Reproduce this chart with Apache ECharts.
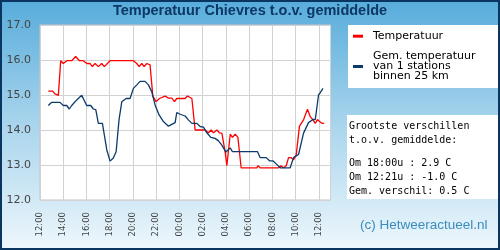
<!DOCTYPE html>
<html>
<head>
<meta charset="utf-8">
<script src="https://cdn.jsdelivr.net/npm/echarts@6/dist/echarts.min.js"></script>
<style>html,body{margin:0;padding:0;}#c{width:500px;height:250px;}</style>
</head>
<body>
<div id="c"></div>
<script>
// Hours since 00:00 of day 1 (12 = 12:00, 36 = 12:00 next day)
const tempHours = [12.71,13.09,13.29,13.58,13.78,14.01,14.30,14.73,15.07,15.39,15.73,16.02,16.31,16.50,16.74,17.02,17.31,17.54,18.03,20.04,20.33,20.53,20.76,20.96,21.19,21.47,21.71,21.99,22.28,22.77,23.05,23.34,23.57,23.77,24.49,24.69,25.07,25.35,26.21,26.50,26.73,26.93,27.22,27.44,27.65,27.93,28.08,28.37,28.56,28.80,29.03,29.31,30.67,30.75,30.95,32.53,32.73,32.96,33.19,33.39,33.62,33.82,34.05,34.33,34.68,35.02,35.26,35.49,35.69,35.88,36.06,36.26,36.46];
const tempValues = [15.11,15.11,15.03,14.99,15.98,15.9,15.98,15.98,16.1,15.98,15.98,15.9,15.9,15.81,15.9,15.81,15.9,15.81,15.98,15.98,15.9,15.81,15.9,15.81,15.9,15.86,14.97,14.81,14.9,14.97,14.91,14.91,14.81,14.9,14.9,14.97,14.9,14.0,14.0,13.92,14.0,13.92,14.0,13.92,13.91,13.38,12.98,13.88,13.79,13.88,13.79,12.92,12.92,12.98,12.92,12.92,12.98,12.92,12.98,13.21,13.21,13.15,13.29,14.11,14.29,14.59,14.38,14.29,14.19,14.3,14.24,14.19,14.19];
const avgHours = [12.71,13.01,13.72,14.01,14.30,14.52,14.73,15.16,15.59,16.02,16.37,16.59,16.80,17.02,17.37,17.75,18.03,18.31,18.55,18.80,19.04,19.41,19.75,20.04,20.33,20.61,21.04,21.33,21.62,21.91,22.25,22.62,23.05,23.34,23.63,23.77,24.06,24.49,24.77,25.07,25.50,25.78,26.07,26.36,26.70,27.07,27.36,27.65,28.00,28.37,28.56,30.72,30.95,31.47,31.75,32.04,32.39,32.67,33.53,33.82,34.25,34.68,35.11,35.49,35.69,35.97,36.12,36.35];
const avgValues = [14.7,14.79,14.79,14.7,14.7,14.6,14.7,14.86,14.99,14.7,14.7,14.6,14.58,14.19,14.19,13.43,13.11,13.2,13.38,14.29,14.81,14.9,14.9,15.19,15.29,15.39,15.39,15.29,15.09,14.71,14.43,14.24,14.11,14.16,14.21,14.5,14.45,14.4,14.29,14.19,14.19,14.1,14.08,13.92,13.79,13.76,13.69,13.57,13.37,13.49,13.38,13.38,13.21,13.21,13.12,13.12,13.01,12.92,12.92,13.21,13.3,13.91,14.21,14.3,14.3,15.0,15.07,15.19];
const seriesNames = ['Temperatuur', 'Gem. temperatuur\nvan 1 stations\nbinnen 25 km'];
const statsLines = ['Grootste verschillen', 't.o.v. gemiddelde:', 'Om 18:00u : 2.9 C', 'Om 12:21u : -1.0 C', 'Gem. verschil: 0.5 C'];
const titleText = 'Temperatuur Chievres t.o.v. gemiddelde';
const creditText = '(c) Hetweeractueel.nl';

const chart = echarts.init(document.getElementById('c'), null, {renderer: 'canvas'});
const pair = (xs, ys) => xs.map((x, i) => [x, ys[i]]);
const statsY = [126, 140.3, 163.3, 177.8, 191.3];

chart.setOption({
  animation: false,
  backgroundColor: {type: 'linear', x: 0, y: 0, x2: 0, y2: 1,
    colorStops: [{offset: 0, color: '#57acdb'}, {offset: 0.5, color: '#a9d5ed'}, {offset: 1, color: '#eef7fc'}]},
  title: {
    text: titleText, left: 'center', top: 3, padding: 0,
    textStyle: {fontFamily: 'Liberation Sans', fontWeight: 'bold', fontSize: 14.5, color: '#0d3764'}
  },
  grid: {left: 40, top: 25, width: 290.5, height: 175, show: true, backgroundColor: '#ffffff', borderColor: '#c4c4c4', borderWidth: 1},
  xAxis: {
    type: 'value', min: 12, max: 37, interval: 2,
    axisLine: {show: false}, axisTick: {show: false},
    splitLine: {show: true, lineStyle: {color: '#d2d2d2', width: 1}},
    axisLabel: {
      rotate: 90, margin: 12, showMaxLabel: false,
      fontFamily: 'DejaVu Sans', fontSize: 8.5, color: '#444',
      formatter: v => String(Math.round(v) % 24).padStart(2, '0') + ':00'
    }
  },
  yAxis: {
    type: 'value', min: 12, max: 17, interval: 1,
    axisLine: {show: false}, axisTick: {show: false},
    splitLine: {show: true, lineStyle: {color: '#d2d2d2', width: 1}},
    axisLabel: {margin: 9, fontFamily: 'DejaVu Sans', fontSize: 11, color: '#444', formatter: v => v.toFixed(1)}
  },
  legend: {
    orient: 'vertical', left: 353, top: 30.7, padding: 0, itemGap: 9.3,
    itemWidth: 10, itemHeight: 3, icon: 'rect', selectedMode: false, z: 10,
    textStyle: {fontFamily: 'DejaVu Sans', fontSize: 11, lineHeight: 10, color: '#000', padding: [0, 0, 0, 5]},
    data: seriesNames
  },
  graphic: [
    {type: 'rect', z: 1, shape: {x: 348, y: 25, width: 150, height: 63}, style: {fill: '#ffffff'}},
    {type: 'rect', z: 1, shape: {x: 347, y: 115, width: 151, height: 84}, style: {fill: '#ffffff'}},
    ...statsLines.map((t, i) => ({type: 'text', z: 2, x: 349, y: statsY[i],
      style: {text: t, font: '10px "DejaVu Sans Mono"', fill: '#000', textVerticalAlign: 'middle'}})),
    {type: 'text', z: 2, x: 360, y: 225,
      style: {text: creditText, font: '13.5px "Liberation Sans"', fill: '#3a8cbc', textVerticalAlign: 'middle'}},
    {type: 'rect', z: 100, shape: {x: 1, y: 1, width: 498, height: 248}, style: {fill: 'none', stroke: '#0b3561', lineWidth: 2}}
  ],
  series: [
    {name: seriesNames[0], type: 'line', data: pair(tempHours, tempValues), showSymbol: false,
      color: '#ff0000', lineStyle: {color: '#ff0000', width: 1.3}},
    {name: seriesNames[1], type: 'line', data: pair(avgHours, avgValues), showSymbol: false,
      color: '#0b3b6b', lineStyle: {color: '#0b3b6b', width: 1.3}}
  ]
});
</script>
</body>
</html>
